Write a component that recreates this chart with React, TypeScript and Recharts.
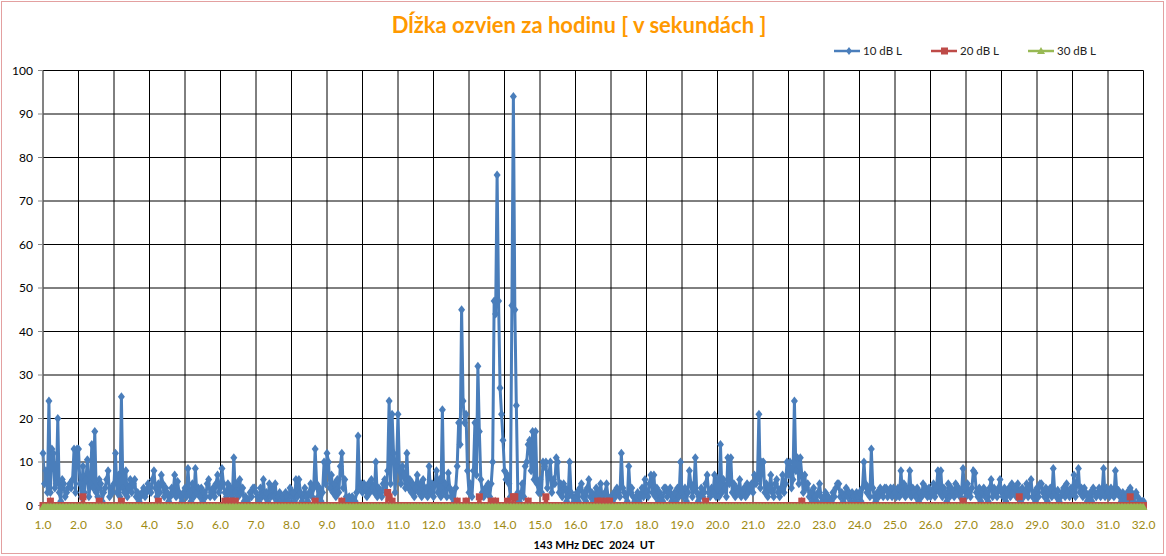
import React from 'react';
import { LineChart, Line, XAxis, YAxis, CartesianGrid } from 'recharts';

// 10 dB L – hourly echo duration (s), one array per day of Dec 2024
const D01 = [12, 5, 8, 3, 24, 3, 13, 12, 4, 5, 20, 3, 1, 6, 5, 2, 3, 4, 5, 4, 6, 13, 3, 13];
const D02 = [13, 5, 2, 9, 3, 6, 10.5, 2, 5, 14, 4, 17, 3, 2, 6, 5, 1, 3, 4, 6, 8, 2, 4, 3];
const D03 = [5, 12, 3, 7, 2, 25, 4, 3, 8, 2, 4, 6, 3, 5, 6, 2, 3, 1, 2, 3, 4, 2, 3, 5];
const D04 = [4, 3, 6, 8, 4, 2, 5, 3, 7, 5, 2, 4, 3, 1, 2, 4, 3, 7, 2, 5.5, 3, 2, 1, 3];
const D05 = [4, 2, 8.5, 3, 1, 5, 2, 8.5, 3, 4, 2, 4, 1, 3, 2, 5, 6, 2, 3, 4, 2, 5, 7, 3];
const D06 = [4, 8.5, 5, 3, 2, 5, 3, 4, 2, 11, 3, 5, 2, 6, 3, 4, 1, 2, 1, 0, 3, 2, 4, 4];
const D07 = [3, 2, 1, 4, 2, 6, 2, 3, 1, 5, 2, 4, 2, 5, 1, 2, 3, 1, 2, 0, 3, 2, 1, 4];
const D08 = [2, 3, 1, 6, 2, 6, 3, 1, 2, 4, 2, 1, 3, 5, 2, 4, 13, 5, 2, 4, 1, 3, 10, 5];
const D09 = [12, 10, 4, 7, 3, 5, 2, 6, 3, 9, 12, 4, 6, 2, 1, 2, 1, 2, 1, 1, 3, 16, 4, 5];
const D10 = [3, 5, 4, 2, 5, 3, 6, 4, 3, 10, 2, 4, 3, 2, 5, 6, 3, 8, 24, 5, 21, 12, 3, 9];
const D11 = [21, 8, 5, 9, 7, 4, 12, 4, 6, 3, 5, 2, 4, 7, 3, 5, 2, 6, 3, 4, 2, 9, 3, 5];
const D12 = [2, 5, 8, 3, 6, 2, 22, 3, 5, 2, 7.5, 4, 2, 3, 1, 4, 9, 19, 14, 45, 24, 19, 21, 8];
const D13 = [3, 5, 2, 8, 19, 7, 32, 17, 6, 3, 2, 4, 3, 5, 2, 5, 10, 47, 44, 76, 47, 27, 21, 15];
const D14 = [8, 6, 7, 5, 2, 46, 94, 45, 23, 3, 1, 2, 5, 2, 9, 10, 14, 15, 8, 17, 6, 17, 5, 3];
const D15 = [6, 3, 10, 9, 10, 4, 7, 10, 3, 6, 5, 11, 10, 3, 5, 2, 5, 4, 1, 2, 10, 3, 2, 1];
const D16 = [2, 3, 1, 4, 5, 2, 3, 1, 4, 6, 2, 3, 1, 2, 4, 2, 3, 5, 2, 1, 3, 5, 2, 1];
const D17 = [2, 1, 3, 2, 4, 3, 2, 12, 4, 3, 2, 1, 9, 3, 4, 2, 1, 2, 3, 1, 2, 4, 2, 6];
const D18 = [3, 2, 5, 7, 3, 7, 2, 4, 1, 3, 2, 1, 4, 4, 2, 3, 4, 1, 2, 3, 1, 4, 2, 10];
const D19 = [3, 2, 4, 1, 3, 8, 5, 2, 4, 11, 3, 1, 2, 4, 2, 3, 5, 7, 3, 2, 4, 3, 7, 2];
const D20 = [6, 2, 14, 3, 6, 4, 2, 11, 5, 11, 3, 5, 2, 4, 3, 6, 2, 3, 4, 2, 5, 3, 4, 5];
const D21 = [3, 7, 5, 6, 21, 4, 10, 10, 3, 5, 2, 4, 7, 3, 2, 5, 6, 3, 2, 4, 7, 3, 5, 10];
const D22 = [7, 10, 4, 6, 24, 8, 11, 5, 11, 7, 3, 7, 4, 5, 2, 3, 1, 4, 2, 1, 3, 5, 2, 1];
const D23 = [2, 3, 1, 2, 0, 1, 3, 2, 4, 5, 5, 2, 3, 1, 2, 4, 2, 3, 1, 3, 2, 1, 3, 2];
const D24 = [3, 1, 4, 10, 5, 3, 4, 2, 13, 4, 2, 1, 3, 2, 4, 3, 2, 4, 4, 2, 3, 4, 2, 4];
const D25 = [3, 2, 4, 2, 8, 3, 5, 2, 4, 3, 8, 2, 4, 3, 2, 4, 1, 3, 2, 5, 3, 4, 2, 4];
const D26 = [2, 3, 5, 2, 4, 8, 3, 8, 2, 4, 3, 1, 5, 2, 4, 3, 2, 5, 3, 4, 2, 3, 8.5, 4];
const D27 = [2, 5, 3, 2, 4, 8, 7.5, 3, 2, 4, 1, 3, 4, 2, 3, 1, 4, 6, 2, 4, 3, 2, 4, 6];
const D28 = [3, 2, 4, 1, 3, 4, 2, 5, 3, 4, 2, 5, 3, 1, 4, 2, 3, 5, 2, 4, 6, 2, 3, 1];
const D29 = [4, 2, 5, 5, 3, 2, 4, 1, 3, 4, 2, 8.5, 3, 2, 3.5, 1, 2, 3, 4, 2, 5, 3, 2, 4];
const D30 = [3, 7, 2, 5, 8.5, 3, 4, 2, 4, 3, 1, 2, 3, 1, 4, 3, 2, 3, 4, 2, 3, 8.5, 2, 4];
const D31 = [3, 2, 4, 3, 2, 8, 3, 3.5, 2, 1, 3, 2, 1, 3, 2, 4, 3, 1, 2, 3, 2, 1, 1, 1];
const END_VALUE = [1];

const BLUE_10DB = [
  ...D01, ...D02, ...D03, ...D04, ...D05, ...D06, ...D07, ...D08, ...D09, ...D10,
  ...D11, ...D12, ...D13, ...D14, ...D15, ...D16, ...D17, ...D18, ...D19, ...D20,
  ...D21, ...D22, ...D23, ...D24, ...D25, ...D26, ...D27, ...D28, ...D29, ...D30,
  ...D31, ...END_VALUE,
];

// 20 dB L – hour index -> value (all other hours are 0)
const RED_20DB_HOURS = [5, 27, 38, 53, 78, 123, 125, 127, 130, 184, 202, 233, 234, 236, 280, 286, 295, 303, 306, 314, 318, 319, 328, 340, 375, 377, 381, 383, 448, 513, 622, 660, 735];
const RED_20DB_VALUES = [1, 2, 1, 1, 1, 1, 1, 1, 1, 1, 1, 3, 2, 1, 1, 1, 2, 1, 1, 1, 2, 2, 1, 2, 1, 1, 1, 1, 1, 1, 1, 2, 2];

// 30 dB L – no echoes
const GREEN_30DB_VALUE = 0;

const X_TICKS = [1, 2, 3, 4, 5, 6, 7, 8, 9, 10, 11, 12, 13, 14, 15, 16, 17, 18, 19, 20, 21, 22, 23, 24, 25, 26, 27, 28, 29, 30, 31, 32];
const Y_TICKS = [0, 10, 20, 30, 40, 50, 60, 70, 80, 90, 100];

const redMap: Record<number, number> = {};
RED_20DB_HOURS.forEach((h, k) => { redMap[h] = RED_20DB_VALUES[k]; });

const data = BLUE_10DB.map((v, i) => ({
  x: 1 + i / 24,
  a: v,
  b: redMap[i] ?? 0,
  c: GREEN_30DB_VALUE,
}));

const BLUE = '#4A7EBB';
const RED = '#BE4B48';
const GREEN = '#98B954';

const diamond = (p: any) => {
  const { cx, cy, index } = p;
  if (cx == null || cy == null) return <g key={`a${index}`} />;
  return (
    <path key={`a${index}`} d={`M${cx},${cy - 4.5}L${cx + 3.5},${cy}L${cx},${cy + 4.5}L${cx - 3.5},${cy}Z`} fill={BLUE} />
  );
};
const square = (p: any) => {
  const { cx, cy, index } = p;
  if (cx == null || cy == null) return <g key={`b${index}`} />;
  return <rect key={`b${index}`} x={cx - 3.5} y={cy - 3.5} width={7} height={7} fill={RED} />;
};
const triangle = (p: any) => {
  const { cx, cy, index } = p;
  if (cx == null || cy == null) return <g key={`c${index}`} />;
  return <path key={`c${index}`} d={`M${cx},${cy - 2.5}L${cx + 4},${cy + 4.5}L${cx - 4},${cy + 4.5}Z`} fill={GREEN} />;
};

const LegendItem = ({ color, label, marker }: { color: string; label: string; marker: 'd' | 's' | 't' }) => (
  <div style={{ display: 'flex', alignItems: 'center', width: 97 }}>
    <svg width={26} height={10} style={{ marginRight: 3 }}>
      <line x1={0} y1={5} x2={26} y2={5} stroke={color} strokeWidth={2.5} />
      {marker === 'd' && <path d="M15,1L18,5L15,9L12,5Z" fill={color} />}
      {marker === 's' && <rect x={10} y={1.5} width={7} height={7} fill={color} />}
      {marker === 't' && <path d="M13,1L17,8L9,8Z" fill={color} />}
    </svg>
    <span>{label}</span>
  </div>
);

export default function App() {
  return (
    <div style={{ position: 'absolute', left: 0, top: 0, width: 1166, height: 556, background: '#fff', fontFamily: 'Lato, sans-serif' }}>
      <div style={{ position: 'absolute', left: 1, top: 1, width: 1161, height: 551, border: '1px solid #E3A0A0' }} />
      <div style={{ position: 'absolute', left: 0, top: 11, width: 1158, textAlign: 'center', color: '#FF9900', fontWeight: 700, fontSize: 22 }}>
        Dĺžka ozvien za hodinu [ v sekundách ]
      </div>
      <div style={{ position: 'absolute', left: 834, top: 44, display: 'flex', fontSize: 11.5, color: '#222' }}>
        <LegendItem color={BLUE} label="10 dB L" marker="d" />
        <LegendItem color={RED} label="20 dB L" marker="s" />
        <LegendItem color={GREEN} label="30 dB L" marker="t" />
      </div>
      <div style={{ position: 'absolute', left: 494, width: 200, top: 538, textAlign: 'center', fontSize: 11, fontWeight: 700, color: '#000', whiteSpace: 'pre' }}>
        {'143 MHz DEC  2024  UT'}
      </div>
      <div style={{ position: 'absolute', left: 0, top: 0 }}>
        <LineChart width={1166} height={556} data={data} margin={{ top: 70.5, right: 22.5, bottom: 0, left: 0 }}>
          <CartesianGrid stroke="#000" strokeWidth={1} />
          <XAxis
            type="number"
            dataKey="x"
            domain={[1, 32]}
            ticks={X_TICKS}
            interval={0}
            tickFormatter={(v: number) => v.toFixed(1)}
            tick={{ fill: '#9E8A12', fontSize: 12, fontFamily: 'Lato' }}
            tickSize={4}
            tickMargin={11}
            axisLine={{ stroke: '#868686' }}
            tickLine={{ stroke: '#868686' }}
            height={50.5}
          />
          <YAxis
            type="number"
            domain={[0, 100]}
            ticks={Y_TICKS}
            interval={0}
            width={43}
            tick={{ fill: '#000', fontSize: 12, fontFamily: 'Lato' }}
            tickSize={5}
            tickMargin={5}
            axisLine={{ stroke: '#868686' }}
            tickLine={{ stroke: '#868686' }}
          />
          <Line dataKey="a" name="10 dB L" stroke={BLUE} strokeWidth={3} dot={diamond} activeDot={false} isAnimationActive={false} type="linear" />
          <Line dataKey="b" name="20 dB L" stroke={RED} strokeWidth={3} dot={square} activeDot={false} isAnimationActive={false} type="linear" />
          <Line dataKey="c" name="30 dB L" stroke={GREEN} strokeWidth={4} dot={triangle} activeDot={false} isAnimationActive={false} type="linear" />
        </LineChart>
      </div>
    </div>
  );
}
